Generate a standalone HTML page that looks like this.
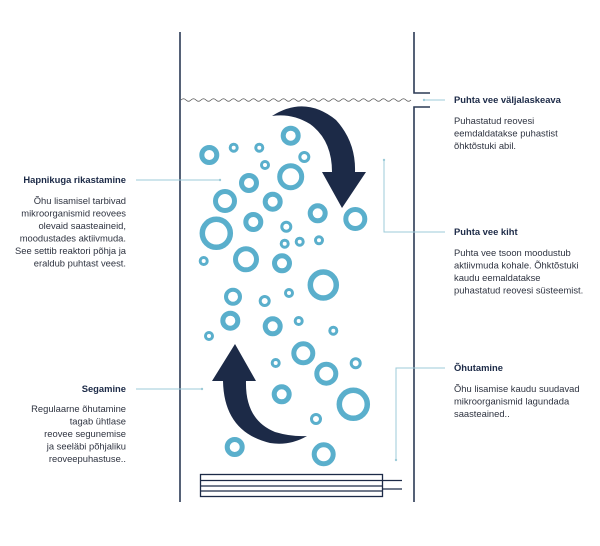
<!DOCTYPE html>
<html><head><meta charset="utf-8"><style>
body{margin:0;background:#fff;}
svg{display:block}
text{font-family:"Liberation Sans",sans-serif;}
.t{font-size:9.4px;font-weight:bold;fill:#1c2a47}
.b{font-size:9.4px;fill:#2e3340}
</style></head><body>
<svg width="600" height="546" viewBox="0 0 600 546" xmlns="http://www.w3.org/2000/svg">
<g stroke="#2b3a55" stroke-width="1.6" fill="none">
<line x1="180" y1="32" x2="180" y2="502"/>
<polyline points="414,32 414,93 430,93"/>
<polyline points="430,107 414,107 414,502"/>
</g>
<path d="M181,100 q2.5,-2.5 5,0 t5,0 t5,0 t5,0 t5,0 t5,0 t5,0 t5,0 t5,0 t5,0 t5,0 t5,0 t5,0 t5,0 t5,0 t5,0 t5,0 t5,0 t5,0 t5,0 t5,0 t5,0 t5,0 t5,0 t5,0 t5,0 t5,0 t5,0 t5,0 t5,0 t5,0 t5,0 t5,0 t5,0 t5,0 t5,0 t5,0 t5,0 t5,0 t5,0 t5,0 t5,0 t5,0 t5,0 t5,0 t5,0" stroke="#555" stroke-width="0.8" fill="none"/>
<g stroke="#9ccbd8" stroke-width="1" fill="none">
<line x1="423" y1="100" x2="445" y2="100"/>
<polyline points="384,160 384,232 445,232"/>
<polyline points="396,460 396,368 445,368"/>
<line x1="136" y1="180" x2="220" y2="180"/>
<line x1="136" y1="389" x2="202" y2="389"/>
</g>
<g fill="#9ccbd8"><circle cx="424" cy="100" r="1.2"/><circle cx="384" cy="160" r="1.2"/><circle cx="396" cy="460" r="1.2"/><circle cx="220" cy="180" r="1.2"/><circle cx="202" cy="389" r="1.2"/></g>
<g fill="none" stroke="#5aafcc">
<circle cx="209.3" cy="155" r="7.5" stroke-width="5"/>
<circle cx="233.7" cy="147.7" r="3.5" stroke-width="3"/>
<circle cx="259.3" cy="147.7" r="3.5" stroke-width="3"/>
<circle cx="290.7" cy="135.7" r="7.5" stroke-width="5"/>
<circle cx="304.3" cy="157" r="4.5" stroke-width="3"/>
<circle cx="265" cy="165" r="3.5" stroke-width="3"/>
<circle cx="249" cy="183" r="7.5" stroke-width="5"/>
<circle cx="290.7" cy="176.7" r="11" stroke-width="5"/>
<circle cx="225" cy="201" r="9.5" stroke-width="5"/>
<circle cx="272.7" cy="201.7" r="7.5" stroke-width="5"/>
<circle cx="317.7" cy="213.3" r="7.5" stroke-width="5"/>
<circle cx="355.3" cy="219" r="9.5" stroke-width="5"/>
<circle cx="216.3" cy="233.3" r="14" stroke-width="5.5"/>
<circle cx="253.3" cy="222" r="7.5" stroke-width="5"/>
<circle cx="286.3" cy="226.7" r="4.5" stroke-width="3"/>
<circle cx="284.7" cy="243.7" r="3.5" stroke-width="3"/>
<circle cx="299.7" cy="241.7" r="3.5" stroke-width="3"/>
<circle cx="319" cy="240.3" r="3.5" stroke-width="3"/>
<circle cx="203.7" cy="261" r="3.5" stroke-width="3"/>
<circle cx="246" cy="259.3" r="10.5" stroke-width="5"/>
<circle cx="282" cy="263.3" r="7.5" stroke-width="5"/>
<circle cx="323.3" cy="285" r="13" stroke-width="5.5"/>
<circle cx="233" cy="296.7" r="7" stroke-width="4"/>
<circle cx="264.7" cy="301" r="4.5" stroke-width="3"/>
<circle cx="289" cy="293" r="3.5" stroke-width="3"/>
<circle cx="230.3" cy="320.7" r="7.5" stroke-width="5"/>
<circle cx="272.7" cy="326.3" r="7.5" stroke-width="5"/>
<circle cx="298.7" cy="321" r="3.5" stroke-width="3"/>
<circle cx="209" cy="336" r="3.5" stroke-width="3"/>
<circle cx="333.3" cy="330.7" r="3.5" stroke-width="3"/>
<circle cx="275.7" cy="363" r="3.5" stroke-width="3"/>
<circle cx="303.3" cy="353.3" r="9.5" stroke-width="5"/>
<circle cx="326.3" cy="373.7" r="9.5" stroke-width="5"/>
<circle cx="355.7" cy="363.3" r="4.5" stroke-width="3"/>
<circle cx="281.7" cy="394.3" r="7.5" stroke-width="5"/>
<circle cx="353.3" cy="404.3" r="14" stroke-width="5.5"/>
<circle cx="316" cy="419" r="4.5" stroke-width="3"/>
<circle cx="234.7" cy="447" r="7.5" stroke-width="5"/>
<circle cx="323.7" cy="454.3" r="9.5" stroke-width="5"/>
</g>
<path d="M272,116 Q305,95 336,120 Q356,142 355,172 L366,172 L342,208 L322,172 L332,172 Q332,140 310,124 Q292,113 272,116 Z" fill="#1c2a47"/>
<path d="M235,344 L256,381 L246,381 Q245,420 275,432 Q292,437 307,436 Q290,446 270,443 Q224,432 223,381 L212,381 Z" fill="#1c2a47"/>
<g stroke="#1c2a47" stroke-width="1.3" fill="none">
<rect x="200.5" y="474.5" width="182" height="22"/>
<line x1="200" y1="480.5" x2="383" y2="480.5"/>
<line x1="200" y1="486" x2="383" y2="486"/>
<line x1="200" y1="491" x2="383" y2="491"/>
<line x1="383" y1="480.5" x2="402" y2="480.5"/>
<line x1="383" y1="489" x2="402" y2="489"/>
</g>
<g text-anchor="end">
<text class="t" x="126" y="183">Hapnikuga rikastamine</text>
<text class="b" x="126" y="204">Õhu lisamisel tarbivad</text>
<text class="b" x="126" y="216.5">mikroorganismid reovees</text>
<text class="b" x="126" y="229">olevaid saasteaineid,</text>
<text class="b" x="126" y="241.5">moodustades aktiivmuda.</text>
<text class="b" x="126" y="254">See settib reaktori põhja ja</text>
<text class="b" x="126" y="266.5">eraldub puhtast veest.</text>
<text class="t" x="126" y="392">Segamine</text>
<text class="b" x="126" y="412">Regulaarne õhutamine</text>
<text class="b" x="126" y="424.5">tagab ühtlase</text>
<text class="b" x="126" y="437">reovee segunemise</text>
<text class="b" x="126" y="449.5">ja seeläbi põhjaliku</text>
<text class="b" x="126" y="462">reoveepuhastuse..</text>
</g>
<text class="t" x="454" y="103">Puhta vee väljalaskeava</text>
<text class="b" x="454" y="124">Puhastatud reovesi</text>
<text class="b" x="454" y="136.5">eemdaldatakse puhastist</text>
<text class="b" x="454" y="149">õhktõstuki abil.</text>
<text class="t" x="454" y="235">Puhta vee kiht</text>
<text class="b" x="454" y="256">Puhta vee tsoon moodustub</text>
<text class="b" x="454" y="268.5">aktiivmuda kohale. Õhktõstuki</text>
<text class="b" x="454" y="281">kaudu eemaldatakse</text>
<text class="b" x="454" y="293.5">puhastatud reovesi süsteemist.</text>
<text class="t" x="454" y="371">Õhutamine</text>
<text class="b" x="454" y="392">Õhu lisamise kaudu suudavad</text>
<text class="b" x="454" y="404.5">mikroorganismid lagundada</text>
<text class="b" x="454" y="417">saasteained..</text>
</svg>
</body></html>
